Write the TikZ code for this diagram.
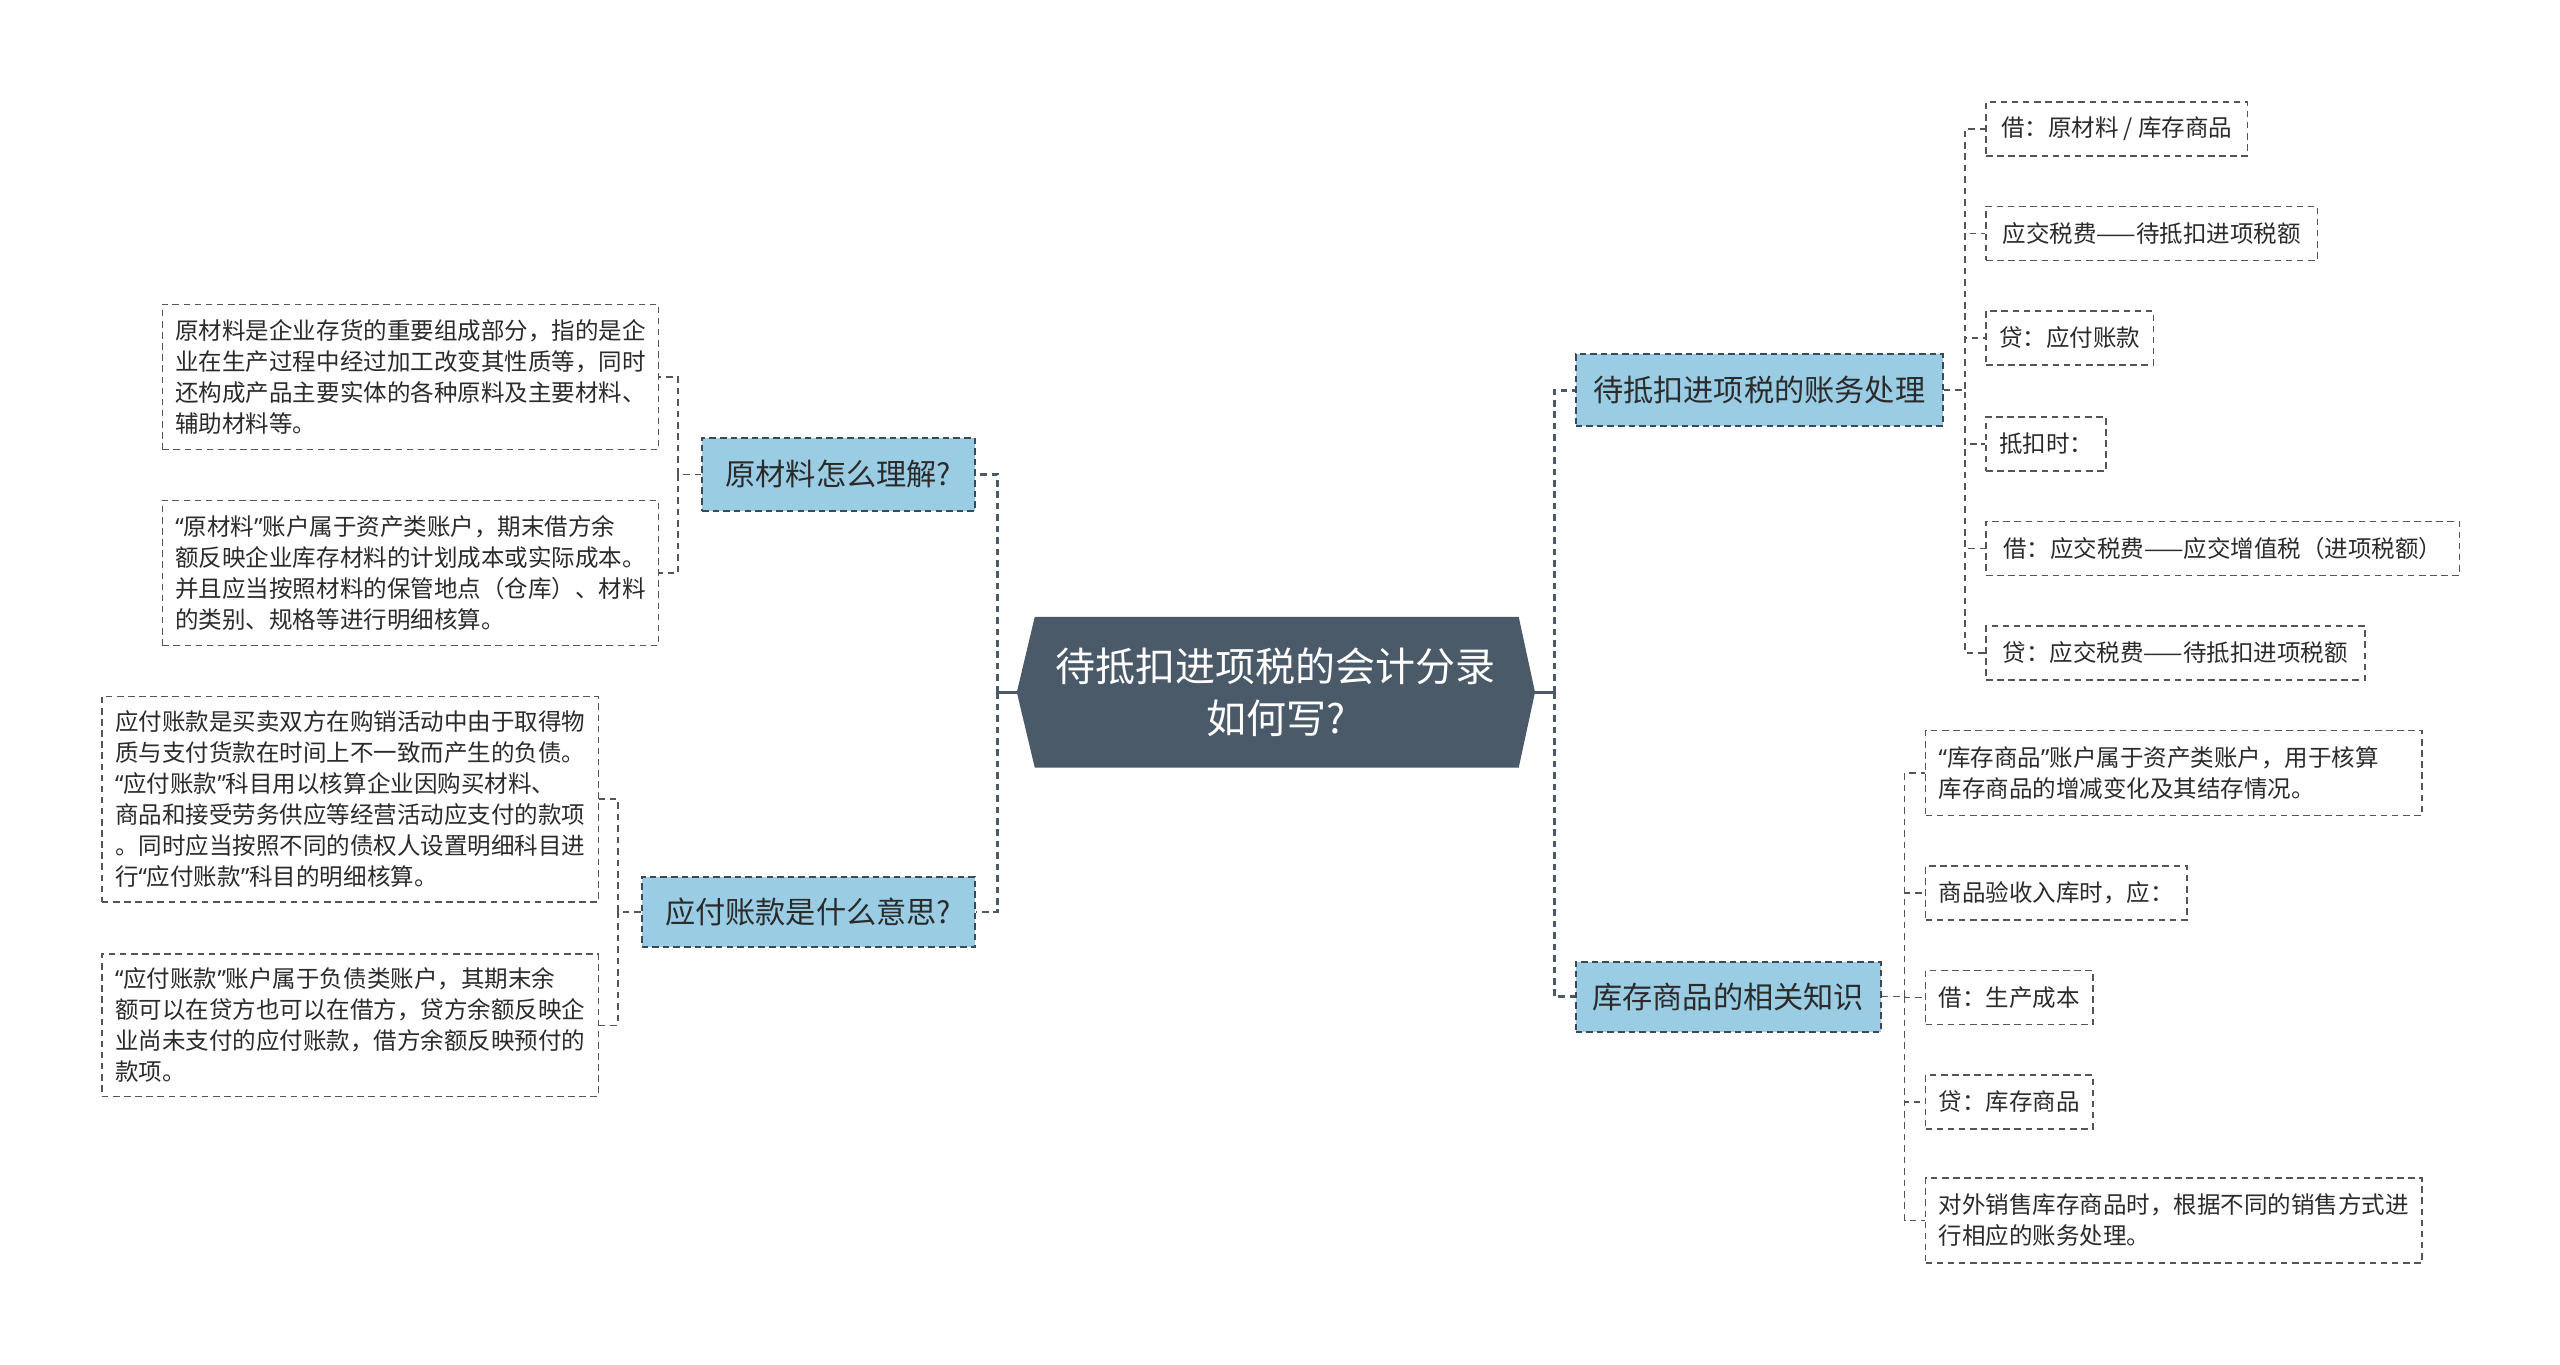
\documentclass[tikz,border=0pt]{standalone}
\usepackage{fontspec}
\setmainfont{Noto Sans CJK SC}
\newfontfamily\quotefont{Noto Sans}
\newcommand{\myoq}{{\quotefont “}}
\newcommand{\mycq}{{\quotefont ”}}
\definecolor{slate}{HTML}{4A5A69}
\definecolor{lblue}{HTML}{9ACCE4}
\definecolor{bord}{HTML}{3D4A56}
\definecolor{txt}{HTML}{2B2B2B}
\definecolor{leafline}{HTML}{555555}
\begin{document}
\begin{tikzpicture}[x=1pt,y=-1pt,
  centerbox/.style={minimum width=317pt,minimum height=92pt,inner sep=0pt,text=white,align=center,
    font=\fontsize{24.5pt}{32pt}\selectfont},
  topicbox/.style={draw=bord,line width=1.2pt,dash pattern=on 4pt off 2.5pt,fill=lblue,text=txt,
    inner sep=0pt,font=\fontsize{18.5pt}{22pt}\selectfont},
  leafbox/.style={draw=leafline,line width=0.9pt,dash pattern=on 4pt off 2.8pt,fill=white,text=txt,
    inner xsep=8pt,inner ysep=0pt,align=left,anchor=north west,
    font=\fontsize{14.4pt}{19pt}\selectfont},
  mainline/.style={draw=slate,line width=1.6pt},
  topicline/.style={draw=slate,line width=1.6pt,dash pattern=on 4pt off 3pt},
  leafline/.style={draw=leafline,line width=0.9pt,dash pattern=on 4pt off 3pt}]
\useasboundingbox (0,0) rectangle (1568,836);
\fill[white] (0,0) rectangle (1568,836);

% central node
\node[centerbox] (c) at (781.5,424) {};
\fill[slate] (c.west) -- ([xshift=11pt]c.north west) -- ([xshift=-10pt]c.north east) -- (c.east)
  -- ([xshift=-10pt]c.south east) -- ([xshift=11pt]c.south west) -- cycle;
\node[centerbox] (ct) at (781.5,424) {待抵扣进项税的会计分录\\如何写?};

% level 1 topics
\node[topicbox,minimum width=167pt,minimum height=45pt] (n1) at (513.5,290.5) {原材料怎么理解?};
\node[topicbox,minimum width=204pt,minimum height=43pt] (n2) at (495,558.5) {应付账款是什么意思?};
\node[topicbox,minimum width=225pt,minimum height=44pt] (n3) at (1077.5,239) {待抵扣进项税的账务处理};
\node[topicbox,minimum width=187pt,minimum height=43pt] (n4) at (1058.5,610.5) {库存商品的相关知识};

% connectors from centre
\coordinate (cl) at (611,424);
\coordinate (cr) at (952,424);
\draw[mainline] (c.west) -- (cl);
\draw[mainline] (c.east) -- (cr);
\draw[topicline] (cl) |- (n1.east);
\draw[topicline] (cl) |- (n2.east);
\draw[topicline] (cr) |- (n3.west);
\draw[topicline] (cr) |- (n4.west);

% left leaves
\node[leafbox,text width=288pt,minimum height=89pt] (l1) at (99,186) {原材料是企业存货的重要组成部分，指的是企\\业在生产过程中经过加工改变其性质等，同时\\还构成产品主要实体的各种原料及主要材料、\\辅助材料等。};
\node[leafbox,text width=288pt,minimum height=89pt] (l2) at (99,306) {\myoq 原材料\mycq 账户属于资产类账户，期末借方余\\额反映企业库存材料的计划成本或实际成本。\\并且应当按照材料的保管地点（仓库）、材料\\的类别、规格等进行明细核算。};
\node[leafbox,text width=288pt,minimum height=126pt] (l3) at (62,426) {应付账款是买卖双方在购销活动中由于取得物\\质与支付货款在时间上不一致而产生的负债。\\\myoq 应付账款\mycq 科目用以核算企业因购买材料、\\商品和接受劳务供应等经营活动应支付的款项\\。同时应当按照不同的债权人设置明细科目进\\行\myoq 应付账款\mycq 科目的明细核算。};
\node[leafbox,text width=288pt,minimum height=87pt] (l4) at (62,584) {\myoq 应付账款\mycq 账户属于负债类账户，其期末余\\额可以在贷方也可以在借方，贷方余额反映企\\业尚未支付的应付账款，借方余额反映预付的\\款项。};

% right leaves (n3)
\node[leafbox,minimum width=160pt,minimum height=33pt] (r1) at (1216,62) {借：原材料 / 库存商品};
\node[leafbox,minimum width=203pt,minimum height=33pt] (r2) at (1216,126) {应交税费——待抵扣进项税额};
\node[leafbox,minimum width=102pt,minimum height=33pt] (r3) at (1216,190) {贷：应付账款};
\node[leafbox,minimum width=73pt,minimum height=33pt] (r4) at (1216,255) {抵扣时：};
\node[leafbox,minimum width=290pt,minimum height=33pt] (r5) at (1216,319) {借：应交税费——应交增值税（进项税额）};
\node[leafbox,minimum width=232pt,minimum height=33pt] (r6) at (1216,383) {贷：应交税费——待抵扣进项税额};

% right leaves (n4)
\node[leafbox,text width=288pt,minimum height=52pt] (k1) at (1179,447) {\myoq 库存商品\mycq 账户属于资产类账户，用于核算\\库存商品的增减变化及其结存情况。};
\node[leafbox,minimum width=159pt,minimum height=33pt] (k2) at (1179,530) {商品验收入库时，应：};
\node[leafbox,minimum width=101pt,minimum height=33pt] (k3) at (1179,594) {借：生产成本};
\node[leafbox,minimum width=101pt,minimum height=33pt] (k4) at (1179,658) {贷：库存商品};
\node[leafbox,text width=288pt,minimum height=52pt] (k5) at (1179,721) {对外销售库存商品时，根据不同的销售方式进\\行相应的账务处理。};

% leaf connectors
\foreach \l in {l1,l2} \draw[leafline] (n1.west) -- ++(-14,0) |- (\l.east);
\foreach \l in {l3,l4} \draw[leafline] (n2.west) -- ++(-14,0) |- (\l.east);
\foreach \l in {r1,r2,r3,r4,r5,r6} \draw[leafline] (n3.east) -- ++(13,0) |- (\l.west);
\foreach \l in {k1,k2,k3,k4,k5} \draw[leafline] (n4.east) -- ++(14,0) |- (\l.west);
\end{tikzpicture}
\end{document}
